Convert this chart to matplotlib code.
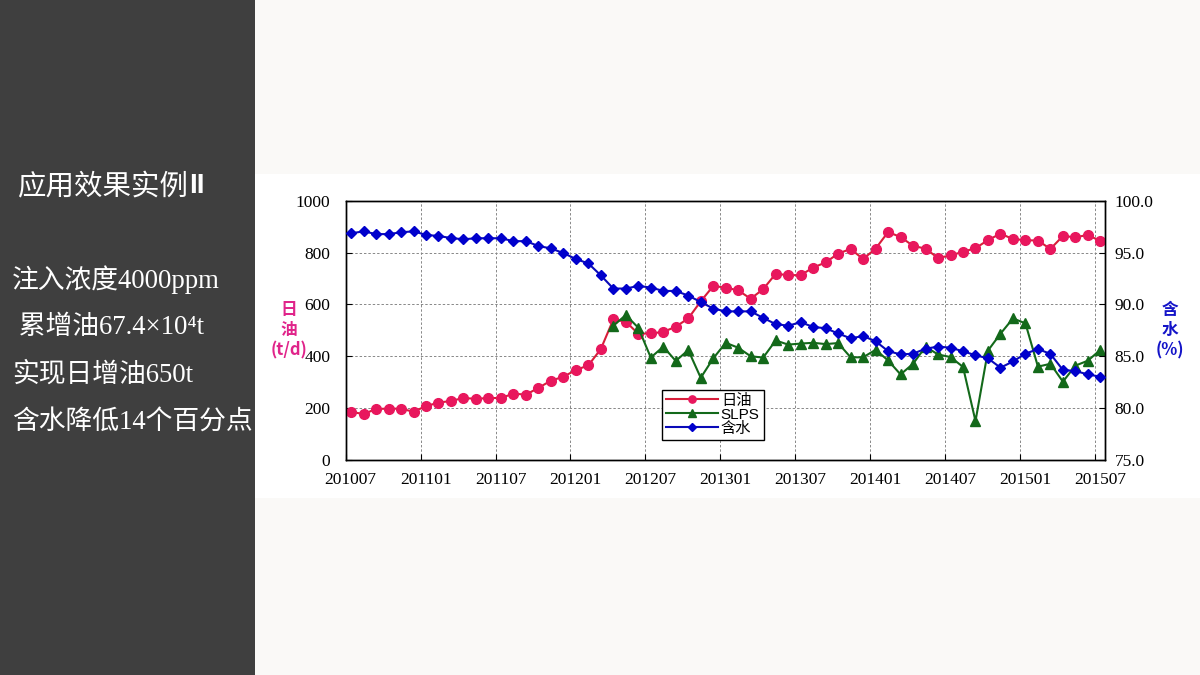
import matplotlib
matplotlib.use("Agg")
import matplotlib.pyplot as plt
from matplotlib.patches import Rectangle
from matplotlib.transforms import ScaledTranslation

# ---------------- data ----------------
tick_labels = ["201007", "201101", "201107", "201201", "201207", "201301",
               "201307", "201401", "201407", "201501", "201507"]

oil = [186, 177, 197, 198, 198, 186, 208, 221, 228, 239,
       236, 239, 239, 256, 252, 278, 306, 321, 347, 365,
       428, 542, 533, 487, 488, 494, 514, 546, 612, 671,
       665, 654, 622, 659, 718, 713, 713, 742, 762, 796,
       814, 775, 815, 879, 860, 826, 815, 779, 789, 803,
       817, 848, 873, 852, 848, 846, 814, 864, 859, 868,
       844]

slps_start = 21
slps = [518, 559, 510, 395, 437, 382, 424, 317, 392,
        452, 433, 400, 395, 461, 445, 449, 452, 447, 451,
        396, 396, 425, 384, 330, 371, 437, 407, 397, 359,
        150, 422, 487, 546, 527, 360, 371, 302, 364, 383,
        425]

water_pct = [96.85, 97.05, 96.78, 96.78, 96.95, 97.05, 96.70, 96.60, 96.40, 96.28,
             96.38, 96.38, 96.38, 96.10, 96.10, 95.63, 95.40, 94.95, 94.38, 93.95,
             92.80, 91.53, 91.53, 91.78, 91.63, 91.30, 91.30, 90.85, 90.23, 89.60,
             89.33, 89.33, 89.33, 88.70, 88.10, 87.95, 88.28, 87.83, 87.70, 87.20,
             86.73, 86.95, 86.45, 85.50, 85.18, 85.25, 85.73, 85.93, 85.83, 85.48,
             85.10, 84.80, 83.90, 84.50, 85.25, 85.70, 85.23, 83.68, 83.58, 83.25,
             83.03]

side_title = "应用效果实例"
side_title_suffix = "II"
side_lines = ["注入浓度4000ppm", " 累增油67.4×10⁴t", "实现日增油650t", "含水降低14个百分点"]

# ---------------- figure ----------------
W, H = 1200, 675
fig = plt.figure(figsize=(12, 6.75), dpi=100)
fig.patch.set_facecolor("#faf9f7")

fig.add_artist(Rectangle((0, 0), 255 / W, 1, transform=fig.transFigure,
                         facecolor="#3f3f3f", edgecolor="none", zorder=-10))
fig.add_artist(Rectangle((255 / W, 1 - 498 / H), 1 - 255 / W, (498 - 174) / H,
                         transform=fig.transFigure, facecolor="white",
                         edgecolor="none", zorder=-10))

cjk = ["Liberation Serif", "Noto Sans CJK SC", "DejaVu Sans"]
cjk_sans = ["Noto Sans CJK SC", "DejaVu Sans"]

renderer = fig.canvas.get_renderer()
t1 = fig.text(17 / W, 1 - 186 / H, side_title, color="white", fontsize=20.5,
              family=cjk_sans, va="center", ha="left")
bb = t1.get_window_extent(renderer=renderer)
fig.text(bb.x1 / W + 1 / W, 1 - 186 / H, side_title_suffix, color="white", fontsize=20,
         family=["Liberation Sans"], fontweight="bold", va="center", ha="left")

ys = [280, 327, 375, 422]
for y, s in zip(ys, side_lines):
    fig.text(12 / W, 1 - y / H, s, color="white", fontsize=19.3,
             family=cjk, va="center", ha="left")

# ---------------- axes ----------------
left, right, top, bottom = 345.7, 1105, 200.7, 460
ax = fig.add_axes([left / W, 1 - bottom / H, (right - left) / W, (bottom - top) / H])
ax.set_facecolor("white")
ax2 = ax.twinx()

off = 0.43
x_oil = [i + off for i in range(len(oil))]
x_slps = [slps_start + i + off for i in range(len(slps))]
x_water = [i + off for i in range(len(water_pct))]

l1, = ax.plot(x_oil, oil, color="#d81e3a", lw=1.5, marker="o", ms=7,
              mfc="#e8175d", mec="#e8175d", zorder=4, label="日油")
l2, = ax.plot(x_slps, slps, color="#13691a", lw=1.5, marker="^", ms=7.5,
              mfc="#13691a", mec="#13691a", zorder=4, label="SLPS")
l3, = ax2.plot(x_water, water_pct, color="#0a0ab8", lw=1.5, marker="D", ms=5.5,
               mfc="#0000cc", mec="#0000cc", zorder=4, label="含水")

ax.set_xlim(0, 60.8)
ax.set_ylim(0, 1000)
ax2.set_ylim(75, 100)
ax.set_xticks(range(0, 61, 6))
ax.set_xticklabels(tick_labels)
ax.set_yticks(range(0, 1001, 200))
ax2.set_yticks([75, 80, 85, 90, 95, 100])
ax2.set_yticklabels([f"{v:.1f}" for v in [75, 80, 85, 90, 95, 100]])

ax.grid(True, color="#888888", ls=(0, (2.5, 2)), lw=0.7)
ax.set_axisbelow(True)

for a in (ax, ax2):
    for sp in a.spines.values():
        sp.set_color("black")
        sp.set_linewidth(1.0)
    a.tick_params(direction="in", length=4, width=0.8, labelsize=12.5, colors="black")
    for lab in a.get_xticklabels() + a.get_yticklabels():
        lab.set_family("Liberation Serif")
ax.tick_params(axis="x", pad=9)
ax.tick_params(axis="y", pad=11)
ax2.tick_params(axis="y", pad=7)

shift = ScaledTranslation(5 / 100, 0, fig.dpi_scale_trans)
for lab in ax.get_xticklabels():
    lab.set_transform(lab.get_transform() + shift)

ax.set_zorder(ax2.get_zorder() - 1)
ax.patch.set_visible(True)
ax2.patch.set_visible(False)

fig.text(289 / W, 1 - 330 / H, "日\n油\n(t/d)", color="#e0248a", fontsize=12,
         family=cjk_sans, ha="center", va="center", linespacing=1.15, fontweight="bold")
fig.text(1170 / W, 1 - 330 / H, "含\n水\n(%)", color="#1414c8", fontsize=12,
         family=cjk_sans, ha="center", va="center", linespacing=1.15, fontweight="bold")

leg = ax2.legend([l1, l2, l3], ["日油", "SLPS", "含水"],
                 loc="upper left",
                 bbox_to_anchor=((662 - left) / (right - left), 1 - (390 - top) / (bottom - top)),
                 frameon=True, fancybox=False, edgecolor="black", framealpha=1,
                 prop={"family": ["Liberation Sans", "Noto Sans CJK SC"], "size": 11},
                 handlelength=3.4, handletextpad=0.2, labelspacing=0.0,
                 borderpad=0.25, borderaxespad=0, markerscale=0.75)
leg.get_frame().set_linewidth(1.0)

fig.savefig("out.png", dpi=100, facecolor=fig.get_facecolor())
